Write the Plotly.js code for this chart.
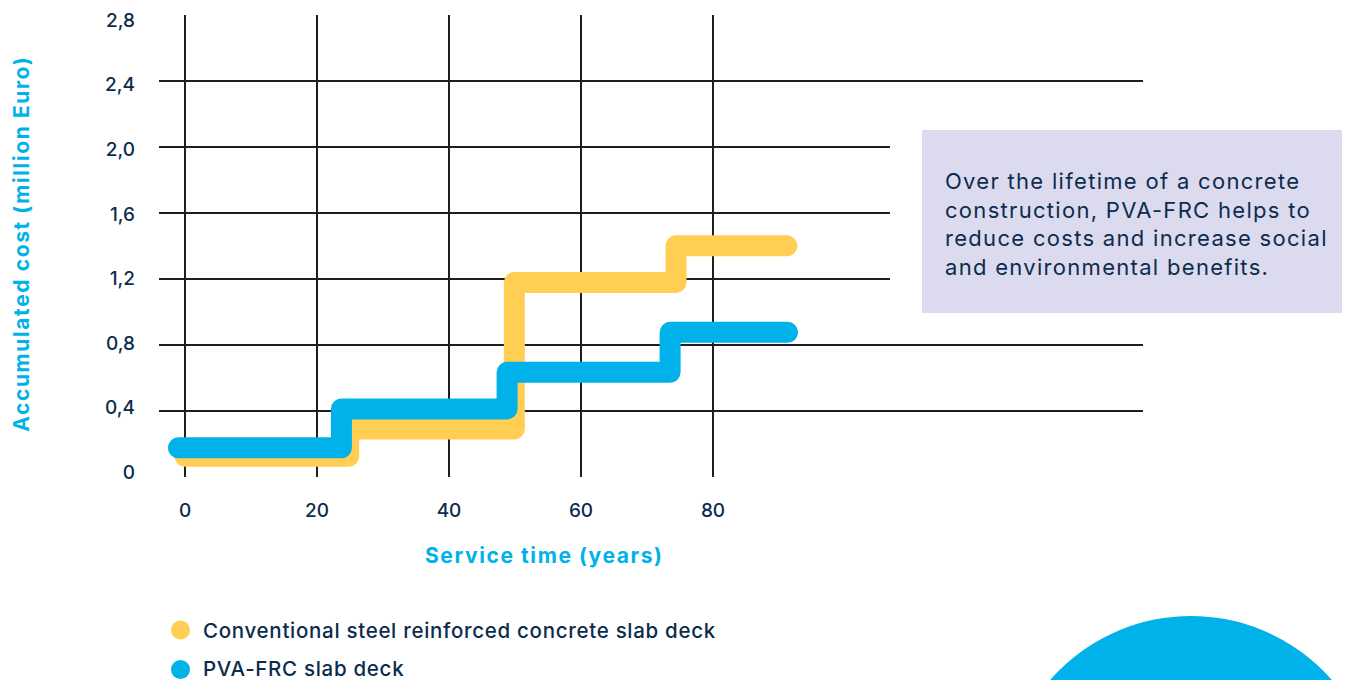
<!DOCTYPE html>
<html>
<head>
<meta charset="utf-8">
<script src="https://cdn.plot.ly/plotly-3.0.1.min.js"></script>
<style>
html, body { margin: 0; padding: 0; background: #ffffff; }
#chart { width: 1346px; height: 680px; }
.js-line { stroke-linecap: round !important; stroke-linejoin: round !important; }
</style>
</head>
<body>
<div id="chart"></div>
<script>
// ---- data ----
const seriesNames = ['Conventional steel reinforced concrete slab deck', 'PVA-FRC slab deck'];
const yearsConventional = [0, 24.8, 49.9, 74.4, 91.2];
const costConventional = [0.124, 0.29, 1.179, 1.401, 1.401];
const yearsPVA = [-1, 23.7, 48.8, 73.5, 91.3];
const costPVA = [0.175, 0.411, 0.633, 0.876, 0.876];
const xTickVals = [0, 20, 40, 60, 80];
const xTickText = ['0', '20', '40', '60', '80'];
const yTickVals = [0, 0.4, 0.8, 1.2, 1.6, 2.0, 2.4, 2.8];
const yTickText = ['0', '0,4', '0,8', '1,2', '1,6', '2,0', '2,4', '2,8'];
const xTitle = 'Service time (years)';
const yTitle = 'Accumulated cost (million Euro)';
const noteText = 'Over the lifetime of a concrete<br>construction, PVA-FRC helps to<br>reduce costs and increase social<br>and environmental benefits.';

// ---- style ----
const YELLOW = '#FFCE52';
const CYAN = '#00B2E9';
const NAVY = '#0C2C4D';
const LAVENDER = '#DCDAEE';
const GRID = '#1e1e1e';
const FONT = 'Inter, "Open Sans", sans-serif';

// plot area in pixels
const L = 159, R = 1143, T = 15, B = 477;
const W = R - L, H = B - T;
const xp = px => (px - L) / W;
const yp = py => (B - py) / H;

const traces = [
  {
    x: yearsConventional, y: costConventional, name: seriesNames[0],
    mode: 'lines', line: { shape: 'hv', color: YELLOW, width: 21 },
    showlegend: false, hoverinfo: 'skip'
  },
  {
    x: yearsPVA, y: costPVA, name: seriesNames[1],
    mode: 'lines', line: { shape: 'hv', color: CYAN, width: 21 },
    showlegend: false, hoverinfo: 'skip'
  },
  { x: [null], y: [null], yaxis: 'y2', mode: 'markers', showlegend: false, hoverinfo: 'skip' }
];

const tickFont = { family: FONT, size: 19, color: NAVY, weight: 500 };

const annotations = [
  { text: xTitle, xref: 'paper', yref: 'paper', x: xp(544), y: yp(555),
    xanchor: 'center', yanchor: 'middle', showarrow: false,
    font: { family: FONT, size: 21, color: CYAN, weight: 700 } },
  { text: yTitle, xref: 'paper', yref: 'paper', x: xp(21), y: yp(244),
    xanchor: 'center', yanchor: 'middle', showarrow: false, textangle: -90,
    font: { family: FONT, size: 21, color: CYAN, weight: 700 } },
  { text: noteText, xref: 'paper', yref: 'paper', x: xp(943), y: yp(224),
    xanchor: 'left', yanchor: 'middle', align: 'left', showarrow: false,
    font: { family: FONT, size: 22, color: NAVY, weight: 400 } },
  { text: seriesNames[0], xref: 'paper', yref: 'paper', x: xp(201), y: yp(630),
    xanchor: 'left', yanchor: 'middle', align: 'left', showarrow: false,
    font: { family: FONT, size: 20.5, color: NAVY, weight: 500 } },
  { text: seriesNames[1], xref: 'paper', yref: 'paper', x: xp(201), y: yp(668),
    xanchor: 'left', yanchor: 'middle', align: 'left', showarrow: false,
    font: { family: FONT, size: 20.5, color: NAVY, weight: 500 } }
];
const annotationLetterSpacing = ['1.6px', '1.6px', '1.3px', '0.7px', '0.7px'];

const layout = {
  width: 1346, height: 680,
  margin: { l: L, r: 1346 - R, t: T, b: 680 - B, pad: 0 },
  paper_bgcolor: '#ffffff', plot_bgcolor: '#ffffff',
  showlegend: false, hovermode: false,
  xaxis: {
    range: [-3.94, 145.15], tickvals: xTickVals, ticktext: xTickText,
    showgrid: true, gridcolor: GRID, gridwidth: 1.5,
    zeroline: false, showline: false, ticks: '',
    tickfont: tickFont, ticklabelstandoff: 20, fixedrange: true
  },
  yaxis: {
    range: [-0.002, 2.802], tickvals: yTickVals,
    showticklabels: false, showgrid: true, gridcolor: GRID, gridwidth: 1.5,
    zeroline: false, showline: false, ticks: '', fixedrange: true
  },
  yaxis2: {
    overlaying: 'y', side: 'left', range: [-0.0305, 2.8328],
    tickvals: yTickVals, ticktext: yTickText,
    showgrid: false, zeroline: false, showline: false, ticks: '',
    tickfont: tickFont, ticklabelstandoff: 23, fixedrange: true
  },
  shapes: [
    { type: 'rect', xref: 'paper', yref: 'paper', layer: 'above',
      x0: xp(890), x1: xp(1350), y0: yp(330), y1: yp(105),
      fillcolor: '#ffffff', line: { width: 0 } },
    { type: 'rect', xref: 'paper', yref: 'paper', layer: 'above',
      x0: xp(922), x1: xp(1342), y0: yp(313), y1: yp(130),
      fillcolor: LAVENDER, line: { width: 0 } },
    { type: 'circle', xref: 'paper', yref: 'paper', layer: 'above',
      x0: xp(1004), x1: xp(1378), y0: yp(990), y1: yp(616),
      fillcolor: CYAN, line: { width: 0 } },
    { type: 'circle', xref: 'paper', yref: 'paper', layer: 'above',
      x0: xp(171), x1: xp(190), y0: yp(639.5), y1: yp(620.5),
      fillcolor: YELLOW, line: { width: 0 } },
    { type: 'circle', xref: 'paper', yref: 'paper', layer: 'above',
      x0: xp(171), x1: xp(190), y0: yp(679), y1: yp(660),
      fillcolor: CYAN, line: { width: 0 } }
  ],
  annotations: annotations
};

Plotly.newPlot('chart', traces, layout, { displayModeBar: false, staticPlot: true }).then(gd => {
  gd.querySelectorAll('.annotation').forEach(g => {
    const i = +g.getAttribute('data-index');
    const t = g.querySelector('text.annotation-text');
    if (t && annotationLetterSpacing[i]) t.style.letterSpacing = annotationLetterSpacing[i];
  });
});
</script>
</body>
</html>
